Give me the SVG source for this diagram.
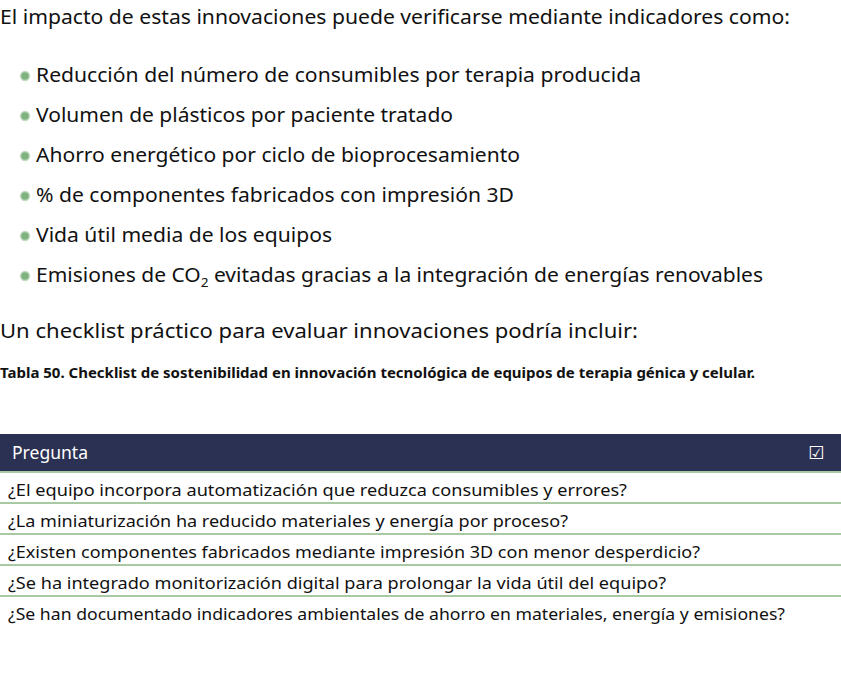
<svg xmlns="http://www.w3.org/2000/svg" width="841" height="688" viewBox="0 0 841 688">
<style>
text{font-family:"Noto Sans","Open Sans",sans-serif;fill:#111}
.p{font-size:20px}
.t{font-size:16.5px}
.c{font-size:14px;font-weight:bold}
.h{font-size:18px;fill:#fff}
.ln{stroke:#a9c9a4;stroke-width:2}
.b{fill:#7fb27f;stroke:#c5dcc3;stroke-width:1.5}
</style>
<rect width="841" height="688" fill="#fff"/>
<text class="p" x="0" y="24" textLength="790" lengthAdjust="spacingAndGlyphs">El impacto de estas innovaciones puede verificarse mediante indicadores como:</text>
<g id="bullets">
<circle class="b" cx="25" cy="76" r="4.5"/><text class="p" x="36" y="82" textLength="605" lengthAdjust="spacingAndGlyphs">Reducción del número de consumibles por terapia producida</text>
<circle class="b" cx="25" cy="116" r="4.5"/><text class="p" x="36" y="122" textLength="417" lengthAdjust="spacingAndGlyphs">Volumen de plásticos por paciente tratado</text>
<circle class="b" cx="25" cy="156" r="4.5"/><text class="p" x="36" y="162" textLength="484" lengthAdjust="spacingAndGlyphs">Ahorro energético por ciclo de bioprocesamiento</text>
<circle class="b" cx="25" cy="196" r="4.5"/><text class="p" x="36" y="202" textLength="478" lengthAdjust="spacingAndGlyphs">% de componentes fabricados con impresión 3D</text>
<circle class="b" cx="25" cy="236" r="4.5"/><text class="p" x="36" y="242" textLength="296" lengthAdjust="spacingAndGlyphs">Vida útil media de los equipos</text>
<circle class="b" cx="25" cy="276" r="4.5"/><text class="p" x="36" y="282" textLength="727" lengthAdjust="spacingAndGlyphs">Emisiones de CO<tspan font-size="13" dy="5">2</tspan><tspan dy="-5"> evitadas gracias a la integración de energías renovables</tspan></text>
</g>
<text class="p" x="0" y="338" textLength="638" lengthAdjust="spacingAndGlyphs">Un checklist práctico para evaluar innovaciones podría incluir:</text>
<text class="c" x="0" y="378" textLength="755" lengthAdjust="spacingAndGlyphs">Tabla 50. Checklist de sostenibilidad en innovación tecnológica de equipos de terapia génica y celular.</text>
<g id="table">
<rect x="0" y="434" width="841" height="37" fill="#2b3152"/>
<text class="h" x="12" y="459" textLength="76" lengthAdjust="spacingAndGlyphs">Pregunta</text>
<text class="h" x="808" y="459" font-family="DejaVu Sans" style="font-family:'DejaVu Sans',sans-serif">☑</text>
<line class="ln" x1="0" y1="472" x2="841" y2="472"/>
<line class="ln" x1="0" y1="503" x2="841" y2="503"/>
<line class="ln" x1="0" y1="534" x2="841" y2="534"/>
<line class="ln" x1="0" y1="565" x2="841" y2="565"/>
<line class="ln" x1="0" y1="596" x2="841" y2="596"/>
<text class="t" x="8" y="496" textLength="619" lengthAdjust="spacingAndGlyphs">¿El equipo incorpora automatización que reduzca consumibles y errores?</text>
<text class="t" x="8" y="527" textLength="560" lengthAdjust="spacingAndGlyphs">¿La miniaturización ha reducido materiales y energía por proceso?</text>
<text class="t" x="8" y="558" textLength="692" lengthAdjust="spacingAndGlyphs">¿Existen componentes fabricados mediante impresión 3D con menor desperdicio?</text>
<text class="t" x="8" y="589" textLength="658" lengthAdjust="spacingAndGlyphs">¿Se ha integrado monitorización digital para prolongar la vida útil del equipo?</text>
<text class="t" x="8" y="620" textLength="777" lengthAdjust="spacingAndGlyphs">¿Se han documentado indicadores ambientales de ahorro en materiales, energía y emisiones?</text>
</g>
</svg>
